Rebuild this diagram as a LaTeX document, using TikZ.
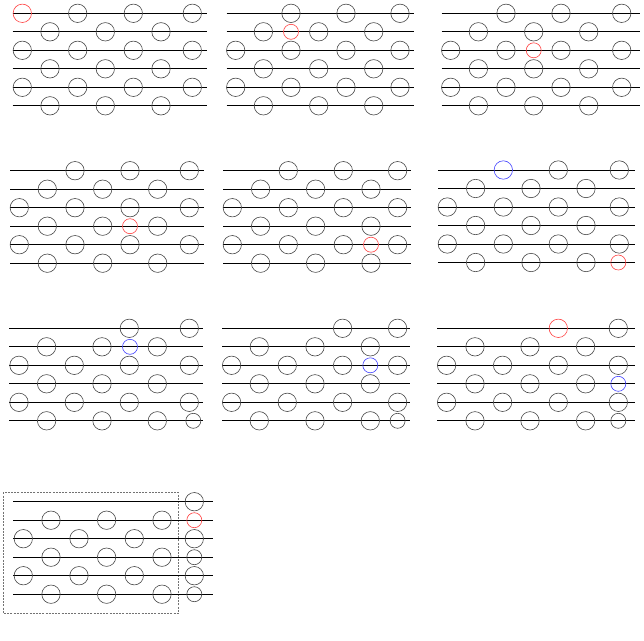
\documentclass[tikz,border=0pt]{standalone}
\begin{document}
\begin{tikzpicture}[x=1pt,y=-1pt,
  rail/.style={line width=1pt,black},
  ball/.style={draw=black!72,line width=0.6pt},
  hot/.style={draw=red!75},
  cold/.style={draw=blue!75},
  frame/.style={draw=black!55,dash pattern=on 2pt off 1.2pt,line width=0.6pt}]
\useasboundingbox (0,0) rectangle (644,640);
\newcommand\stripes[1]{\foreach \r in {0,...,5}{\draw[rail] (0,\r*18.5) -- (#1,\r*18.5);}}
\newcommand\brow[2]{\foreach \x in {#2}{\draw[ball] (\x,#1*18.5) circle[radius=9.2pt];}}
\newcommand\bigball[3]{\draw[ball,#3] (#2,#1*18.5) circle[radius=9.2pt];}
\newcommand\sball[3]{\draw[ball,#3] (#2,#1*18.5) circle[radius=7.5pt];}
% Panel 1
\begin{scope}[shift={(12.7,13.3)}]
\stripes{194}
\bigball{0}{9.6}{hot}
\brow{0}{65,120.6,179.6}
\brow{1}{37.3,92.6,148.3}
\brow{2}{9.6,65,120.6,179.6}
\brow{3}{37.3,92.6,148.3}
\brow{4}{9.6,65,120.6,179.6}
\brow{5}{37.3,92.6,148.3}
\end{scope}
% Panel 2
\begin{scope}[shift={(226.7,13.3)}]
\stripes{187.3}
\brow{0}{64.3,119.3,173.3}
\brow{1}{36.7,92,147}
\sball{1}{64.3}{hot}
\brow{2}{9,64.3,119.3,173.3}
\brow{3}{36.7,92,147}
\brow{4}{9,64.3,119.3,173.3}
\brow{5}{36.7,92,147}
\end{scope}
% Panel 3
\begin{scope}[shift={(441.7,13.3)}]
\stripes{198.3}
\brow{0}{64.3,119.3,180}
\brow{1}{36.7,92,147}
\brow{2}{9,64.3,119.3,180}
\sball{2}{92}{hot}
\brow{3}{36.7,92,147}
\brow{4}{9,64.3,119.3,180}
\brow{5}{36.7,92,147}
\end{scope}
% Panel 4
\begin{scope}[shift={(10,170.7)}]
\stripes{194}
\brow{0}{65,120,179.3}
\brow{1}{37.3,92.7,147.7}
\brow{2}{9.3,65,120,179.3}
\brow{3}{37.3,92.7,147.7}
\sball{3}{120}{hot}
\brow{4}{9.3,65,120,179.3}
\brow{5}{37.3,92.7,147.7}
\end{scope}
% Panel 5
\begin{scope}[shift={(223.3,170.7)}]
\stripes{187.7}
\brow{0}{65,120,174.3}
\brow{1}{37.3,92.3,147.7}
\brow{2}{9,65,120,174.3}
\brow{3}{37.3,92.3,147.7}
\brow{4}{9,65,120,174.3}
\sball{4}{147.7}{hot}
\brow{5}{37.3,92.3,147.7}
\end{scope}
% Panel 6
\begin{scope}[shift={(438.3,170)}]
\stripes{196.7}
\bigball{0}{65}{cold}
\brow{0}{120,181}
\brow{1}{37.3,92.7,147.7}
\brow{2}{9,65,120,181}
\brow{3}{37.3,92.7,147.7}
\brow{4}{9,65,120,181}
\brow{5}{37.3,92.7,147.7}
\sball{5}{180}{hot}
\end{scope}
% Panel 7
\begin{scope}[shift={(9.3,328.3)}]
\stripes{194}
\brow{0}{120,180}
\brow{1}{37.3,92.7,148}
\sball{1}{120.7}{cold}
\brow{2}{9.7,65,120,180}
\brow{3}{37.3,92.7,148}
\brow{4}{9.7,65,120,180}
\brow{5}{37.3,92.7,148}
\sball{5}{184}{}
\end{scope}
% Panel 8
\begin{scope}[shift={(222.3,328.3)}]
\stripes{187.7}
\brow{0}{120.3,175.3}
\brow{1}{37,92.7,148}
\brow{2}{9.3,65,120.3,175.3}
\sball{2}{148}{cold}
\brow{3}{37,92.7,148}
\brow{4}{9.3,65,120.3,175.3}
\brow{5}{37,92.7,148}
\sball{5}{175.3}{}
\end{scope}
% Panel 9
\begin{scope}[shift={(437.3,328.3)}]
\stripes{197.7}
\bigball{0}{121}{hot}
\brow{0}{181}
\brow{1}{37.7,92.7,148.3}
\brow{2}{9.3,65.3,121,181}
\brow{3}{37.7,92.7,148.3}
\sball{3}{181}{cold}
\brow{4}{9.3,65.3,121,181}
\brow{5}{37.7,92.7,148.3}
\sball{5}{181}{}
\end{scope}
% Panel 10
\begin{scope}[shift={(13.3,501.7)}]
\draw[frame] (-10,-9.4) rectangle (165,111.6);
\stripes{200}
\brow{0}{181}
\brow{1}{37.7,93.3,148.7}
\sball{1}{181}{hot}
\brow{2}{10,65.7,121,181}
\brow{3}{37.7,93.3,148.7}
\sball{3}{181}{}
\brow{4}{10,65.7,121,181}
\brow{5}{37.7,93.3,148.7}
\sball{5}{181}{}
\end{scope}
\end{tikzpicture}
\end{document}
